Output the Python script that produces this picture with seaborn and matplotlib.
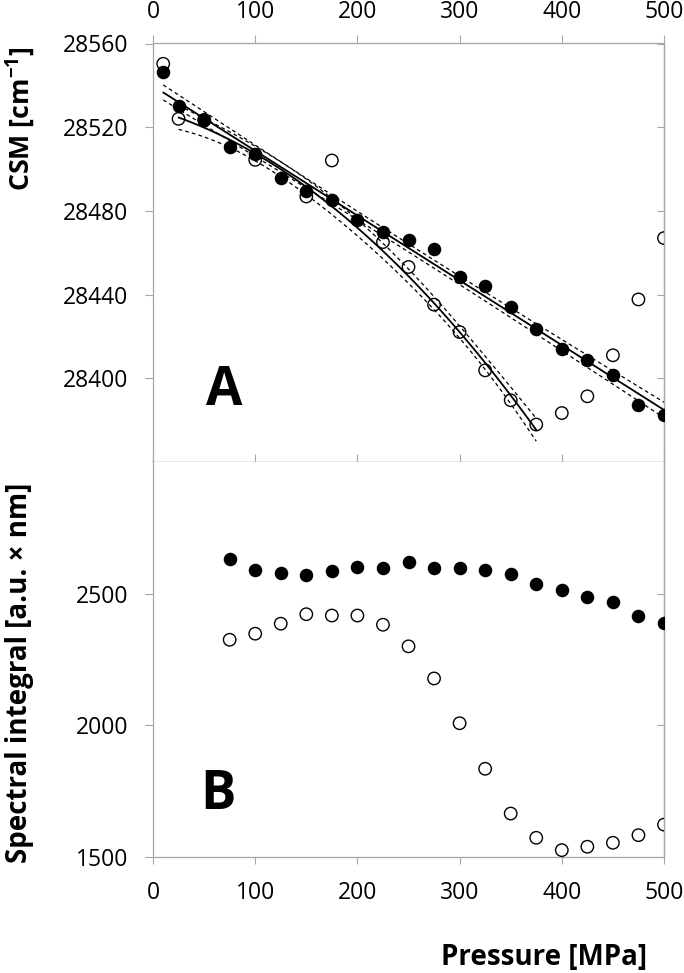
import numpy as np
import pandas as pd
import matplotlib
matplotlib.use("Agg")
import matplotlib.pyplot as plt
import seaborn as sns

# panel A: CSM position vs pressure (filled / open series)
p_filled_a = [10, 25, 50, 75, 100, 125, 150, 175, 200, 225, 250,
              275, 300, 325, 350, 375, 400, 425, 450, 475, 500]
csm_filled = [28546.3, 28529.9, 28523.6, 28510.5, 28507.0, 28495.7, 28489.3,
              28485.0, 28475.5, 28469.9, 28465.9, 28462.0, 28448.4, 28444.1,
              28434.1, 28423.7, 28414.2, 28408.9, 28401.4, 28387.4, 28382.3]
p_open_a = [10, 25, 50, 100, 150, 175, 225, 250, 275, 300, 325,
            350, 375, 400, 425, 450, 475, 500]
csm_open = [28550.3, 28524.0, 28523.5, 28504.4, 28486.9, 28504.1, 28465.1,
            28453.2, 28435.2, 28422.1, 28403.8, 28389.5, 28377.9, 28383.4,
            28391.4, 28411.0, 28437.7, 28467.0]

# fit ranges used for the regression lines
fit_filled_range = (10, 500)
fit_open_range = (25, 375)
fit_open_skip = [175]

# panel B: spectral integral vs pressure
p_b = [75, 100, 125, 150, 175, 200, 225, 250, 275, 300,
       325, 350, 375, 400, 425, 450, 475, 500]
spec_filled = [2631, 2590, 2577, 2571, 2586, 2602, 2599, 2621, 2599, 2598,
               2590, 2573, 2535, 2514, 2488, 2470, 2416, 2388]
spec_open = [2325, 2348, 2386, 2422, 2417, 2417, 2382, 2300, 2178, 2008,
             1835, 1665, 1573, 1526, 1539, 1554, 1583, 1623]

x_ticks = [0, 100, 200, 300, 400, 500]
csm_ticks = [28400, 28440, 28480, 28520, 28560]
spec_ticks = [1500, 2000, 2500]

GRAY = "#a6a6a6"
FONT = ["Open Sans", "DejaVu Sans"]
TICK_SIZE = 16.5
LABEL_SIZE = 20

sns.set_theme(style="white")
plt.rcParams["font.family"] = FONT
plt.rcParams["text.color"] = "black"
plt.rcParams["mathtext.fontset"] = "custom"
plt.rcParams["mathtext.rm"] = "Open Sans"
plt.rcParams["mathtext.bf"] = "Open Sans:bold"


def fit_band(x, y, deg, t=2.1, n=200):
    # polynomial fit with a 95% confidence band for the mean
    x = np.asarray(x, float)
    y = np.asarray(y, float)
    coef = np.polyfit(x, y, deg)
    X = np.vander(x, deg + 1)
    resid = y - X @ coef
    s2 = resid @ resid / (len(x) - deg - 1)
    cov = s2 * np.linalg.inv(X.T @ X)
    grid = np.linspace(x.min(), x.max(), n)
    G = np.vander(grid, deg + 1)
    yhat = G @ coef
    se = np.sqrt(np.einsum("ij,jk,ik->i", G, cov, G))
    return grid, yhat, yhat - t * se, yhat + t * se


def draw_fit(ax, x, y, deg):
    grid, yhat, lo, hi = fit_band(x, y, deg)
    sns.lineplot(x=grid, y=yhat, ax=ax, color="black", lw=1.3, sort=False)
    for band in (lo, hi):
        sns.lineplot(x=grid, y=band, ax=ax, color="black", lw=0.9,
                     linestyle=(0, (3, 2.5)), sort=False)


df_fa = pd.DataFrame({"p": p_filled_a, "csm": csm_filled})
df_oa = pd.DataFrame({"p": p_open_a, "csm": csm_open})
df_b = pd.DataFrame({"p": p_b, "filled": spec_filled, "open": spec_open})

fig = plt.figure(figsize=(6.84, 9.73), dpi=100)
W, H = 684, 973
left, right = 153, 664
top_a, split, bot_b = 43.5, 462, 857
ax_a = fig.add_axes([left / W, 1 - split / H, (right - left) / W, (split - top_a) / H])
ax_b = fig.add_axes([left / W, 1 - bot_b / H, (right - left) / W, (bot_b - split) / H])

tick_kw = dict(width=0.8, color=GRAY, labelcolor="black", labelsize=TICK_SIZE)

# ---- panel A ----
fa = df_fa[(df_fa.p >= fit_filled_range[0]) & (df_fa.p <= fit_filled_range[1])]
oa = df_oa[(df_oa.p >= fit_open_range[0]) & (df_oa.p <= fit_open_range[1])
           & (~df_oa.p.isin(fit_open_skip))]
draw_fit(ax_a, fa.p, fa.csm, 1)
draw_fit(ax_a, oa.p, oa.csm, 2)

sns.scatterplot(data=df_oa, x="p", y="csm", ax=ax_a, s=80, marker="o",
                facecolors="none", edgecolor="black", linewidth=1.0, zorder=3)
sns.scatterplot(data=df_fa, x="p", y="csm", ax=ax_a, s=95, color="black",
                edgecolor="black", linewidth=0, zorder=4)

ax_a.set_xlim(0, 500)
ax_a.set_ylim(28360, 28560)
ax_a.set_xticks(x_ticks)
ax_a.set_yticks(csm_ticks)
ax_a.xaxis.tick_top()
ax_a.tick_params(axis="x", top=True, bottom=False, labeltop=True, labelbottom=False,
                 direction="out", length=6, pad=8, **tick_kw)
ax_a.tick_params(axis="y", left=True, direction="out", length=6, pad=12, **tick_kw)
ax_a.text(0.14, 0.17, "A", transform=ax_a.transAxes, fontsize=38,
          fontweight="bold", ha="center", va="center")

# inward ticks on the right and bottom edges
sec = ax_a.secondary_yaxis("right")
sec.set_yticks(csm_ticks)
sec.tick_params(direction="in", length=5, width=0.8, color=GRAY, labelright=False)
secx = ax_a.secondary_xaxis("bottom")
secx.set_xticks(x_ticks)
secx.tick_params(direction="in", length=6, width=0.8, color=GRAY, labelbottom=False)

# ---- panel B ----
sns.scatterplot(data=df_b, x="p", y="open", ax=ax_b, s=80, marker="o",
                facecolors="none", edgecolor="black", linewidth=1.0, zorder=3)
sns.scatterplot(data=df_b, x="p", y="filled", ax=ax_b, s=95, color="black",
                edgecolor="black", linewidth=0, zorder=4)
ax_b.set_xlim(0, 500)
ax_b.set_ylim(1500, 3000)
ax_b.set_xticks(x_ticks)
ax_b.set_yticks(spec_ticks)
ax_b.tick_params(axis="x", bottom=True, direction="out", length=5, pad=12, **tick_kw)
ax_b.tick_params(axis="y", left=True, direction="out", length=6, pad=12, **tick_kw)
ax_b.text(0.127, 0.157, "B", transform=ax_b.transAxes, fontsize=38,
          fontweight="bold", ha="center", va="center")
secb = ax_b.secondary_yaxis("right")
secb.set_yticks(spec_ticks)
secb.tick_params(direction="in", length=5, width=0.8, color=GRAY, labelright=False)

for ax in (ax_a, ax_b, sec, secx, secb):
    for sp in ax.spines.values():
        sp.set_color(GRAY)
        sp.set_linewidth(0.9)
for ax in (ax_a, ax_b):
    ax.set_xlabel("")
    ax.set_ylabel("")
    ax.grid(False)
ax_b.spines["top"].set_visible(False)

fig.text(20 / W, 1 - 119 / H, r"CSM [cm$^{\mathbf{-1}}$]", rotation=90,
         fontsize=19.3, fontweight="bold", ha="center", va="center")
fig.text(20 / W, 1 - 673 / H, "Spectral integral [a.u. × nm]", rotation=90,
         fontsize=LABEL_SIZE, fontweight="bold", ha="center", va="center")
fig.text(544 / W, 1 - 957 / H, "Pressure [MPa]", fontsize=LABEL_SIZE,
         fontweight="bold", ha="center", va="center")

fig.savefig("out.png", dpi=100, facecolor="white")
